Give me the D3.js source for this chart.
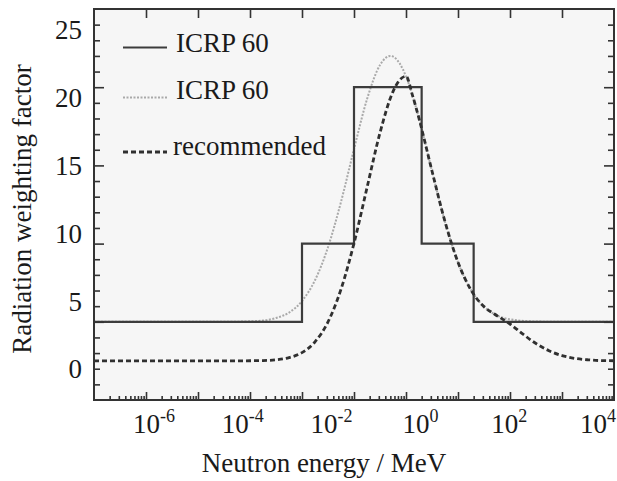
<!DOCTYPE html>
<html><head><meta charset="utf-8">
<script src="https://cdn.jsdelivr.net/npm/d3@7/dist/d3.min.js"></script>
<style>body{margin:0;background:#fff}svg{display:block}text{font-family:"Liberation Serif","Times New Roman",serif;fill:#1a1a1a}</style>
</head><body><svg id="c" width="617" height="481"></svg>
<script>
// ICRP 60 step function (neutron energy in MeV, weighting factor)
const stepEnergy = [1e-6, 1e-2, 1e-1, 2, 20, 1e4];
const stepWeight = [5, 10, 20, 10, 5, 5];
// ICRP 60 continuous (gray dotted), energies as log10(E/MeV)
const icrpLogE = [-6,-5,-4,-3.5,-3,-2.75,-2.5,-2.25,-2,-1.75,-1.5,-1.25,-1,-0.75,-0.5,-0.3,-0.125,0,0.25,0.5,0.75,1,1.25,1.5,1.75,2,2.5,3,4];
const icrpW    = [5.0,5.0,5.0,5.0,5.03,5.08,5.24,5.59,6.33,7.66,9.77,12.67,16.04,19.23,21.42,22.0,21.54,20.69,18.0,14.64,11.40,8.81,7.03,5.97,5.41,5.16,5.02,5.0,5.0];
// recommended (dark dashed)
const recLogE = [-6,-5,-4,-3.5,-3,-2.75,-2.5,-2.25,-2,-1.75,-1.5,-1.25,-1,-0.75,-0.5,-0.25,-0.125,0,0.125,0.25,0.5,0.75,1,1.25,1.5,1.7,2,2.25,2.5,2.75,3,3.25,3.5,3.75,4];
const recW    = [2.5,2.5,2.5,2.5,2.51,2.52,2.57,2.71,3.03,3.72,4.99,7.08,10.02,13.57,17.09,19.72,20.45,20.7,19.48,18.0,14.64,11.40,8.81,7.03,5.97,5.50,4.86,4.21,3.61,3.15,2.84,2.66,2.57,2.52,2.51];
const xTickExps = [-6,-4,-2,0,2,4];
const yTickLabels = [0,5,10,15,20,25];
const legendLabels = ["ICRP 60","ICRP 60","recommended"];

const svg = d3.select("#c");
const L=94, R=614, T=9, B=400;
const x = d3.scaleLog().domain([1e-6,1e4]).range([L,R]);
const y = d3.scaleLinear().domain([0,25]).range([B,T]);
// label placement scales (labels sit apart from the tick marks in the original)
const xLab = d3.scaleLinear().domain([-6,4]).range([154,598]);
const yLab = d3.scaleLinear().domain([0,25]).range([369,30]);

svg.append("rect").attr("x",L).attr("y",T).attr("width",R-L).attr("height",B-T).attr("fill","#f6f6f6");

const clip = svg.append("clipPath").attr("id","cp").append("rect").attr("x",L).attr("y",T).attr("width",R-L).attr("height",B-T);
const g = svg.append("g").attr("clip-path","url(#cp)");

const decades = d3.range(-5,4).map(k=>Math.pow(10,k));
const minors = [];
for(let k=-6;k<4;k++) for(let m=2;m<=9;m++) minors.push(m*Math.pow(10,k));

function style(sel){sel.select(".domain").remove();sel.selectAll("line").attr("stroke","#333").attr("stroke-width",1.6);sel.selectAll("text").remove();}
svg.append("g").attr("transform",`translate(0,${B})`).call(d3.axisBottom(x).tickValues(minors).tickSize(-4).tickFormat("")).call(style);
svg.append("g").attr("transform",`translate(0,${B})`).call(d3.axisBottom(x).tickValues(decades).tickSize(-8).tickFormat("")).call(style);
svg.append("g").attr("transform",`translate(0,${T})`).call(d3.axisTop(x).tickValues(decades).tickSize(-9).tickFormat("")).call(style);
const yMinor = d3.range(1,25).filter(v=>v%5!==0);
svg.append("g").attr("transform",`translate(${L},0)`).call(d3.axisLeft(y).tickValues(yMinor).tickSize(-6).tickFormat("")).call(style);
svg.append("g").attr("transform",`translate(${L},0)`).call(d3.axisLeft(y).tickValues([5,10,15,20]).tickSize(-10).tickFormat("")).call(style);
svg.append("g").attr("transform",`translate(${R},0)`).call(d3.axisRight(y).tickValues(yMinor).tickSize(-6).tickFormat("")).call(style);
svg.append("g").attr("transform",`translate(${R},0)`).call(d3.axisRight(y).tickValues([5,10,15,20]).tickSize(-10).tickFormat("")).call(style);

// curves
const lineLog = d3.line().x(d=>x(Math.pow(10,d[0]))).y(d=>y(d[1])).curve(d3.curveMonotoneX);
g.append("path").attr("d",lineLog(icrpLogE.map((e,i)=>[e,icrpW[i]]))).attr("fill","none")
 .attr("stroke","#a9a9a9").attr("stroke-width",2).attr("stroke-dasharray","2,1.5");
const stepLine = d3.line().x(d=>x(d[0])).y(d=>y(d[1])).curve(d3.curveStepAfter);
g.append("path").attr("d",stepLine(stepEnergy.map((e,i)=>[e,stepWeight[i]]))).attr("fill","none")
 .attr("stroke","#3c3c3c").attr("stroke-width",2.2);
g.append("path").attr("d",lineLog(recLogE.map((e,i)=>[e,recW[i]]))).attr("fill","none")
 .attr("stroke","#303030").attr("stroke-width",2.8).attr("stroke-dasharray","5,3");

// frame
svg.append("rect").attr("x",L).attr("y",T).attr("width",R-L).attr("height",B-T).attr("fill","none").attr("stroke","#333").attr("stroke-width",2);

// tick labels
const xl = svg.append("g");
xTickExps.forEach(k=>{
  const t = xl.append("text").attr("x",xLab(k)).attr("y",433).attr("text-anchor","middle").attr("font-size",27);
  t.append("tspan").text("10");
  t.append("tspan").attr("dy",-11).attr("font-size",18).text(k<0?("-"+(-k)):String(k));
});
svg.append("g").selectAll("text").data(yTickLabels).join("text")
  .attr("x",82).attr("y",d=>yLab(d)).attr("dy","0.35em").attr("text-anchor","end").attr("font-size",27).text(d=>d);

// axis titles
svg.append("text").attr("x",324).attr("y",472).attr("text-anchor","middle").attr("font-size",27).text("Neutron energy / MeV");
svg.append("text").attr("transform","translate(31,209) rotate(-90)").attr("text-anchor","middle").attr("font-size",27).text("Radiation weighting factor");

// legend
const legY = [47.5, 97.5, 152];
const legTY = [52, 99, 155];
const legTX = [176, 176, 173];
const lg = svg.append("g");
lg.append("line").attr("x1",123).attr("x2",167).attr("y1",legY[0]).attr("y2",legY[0]).attr("stroke","#3c3c3c").attr("stroke-width",2.2);
lg.append("line").attr("x1",123).attr("x2",167).attr("y1",legY[1]).attr("y2",legY[1]).attr("stroke","#a9a9a9").attr("stroke-width",2).attr("stroke-dasharray","2,1.5");
lg.append("line").attr("x1",123).attr("x2",167).attr("y1",legY[2]).attr("y2",legY[2]).attr("stroke","#303030").attr("stroke-width",2.8).attr("stroke-dasharray","5,3");
legendLabels.forEach((s,i)=>lg.append("text").attr("x",legTX[i]).attr("y",legTY[i]).attr("font-size",27).text(s));
</script></body></html>
